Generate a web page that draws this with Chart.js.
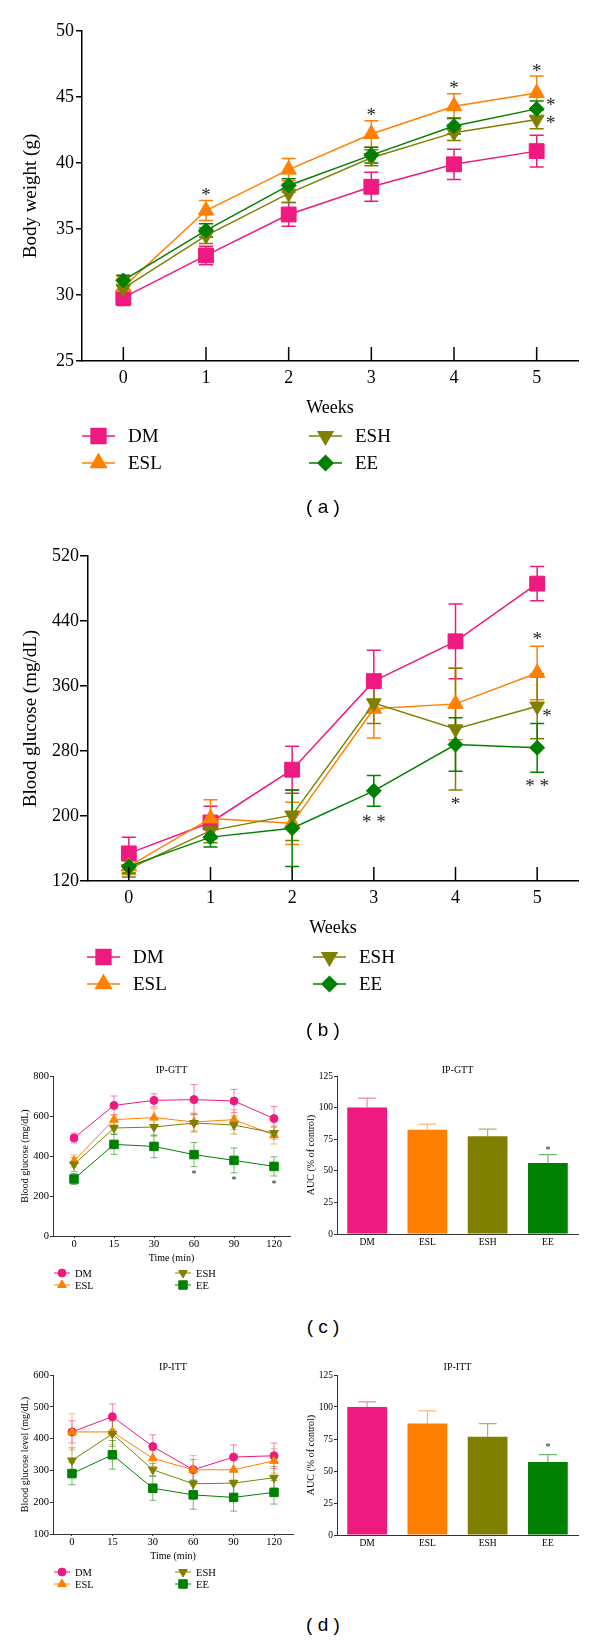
<!DOCTYPE html>
<html lang="en">
<head>
<meta charset="UTF-8">
<title>Body weight, blood glucose, IP-GTT and IP-ITT</title>
<script src="https://cdn.jsdelivr.net/npm/chart.js"></script>
<style>
    body { margin: 0; background: #fff; width: 600px; height: 1641px; position: relative; overflow: hidden; }
    .box { position: absolute; }
    .tag { position: absolute; width: 100px; text-align: center; line-height: 20px;
           font-family: "Liberation Sans", Arial, sans-serif; font-size: 19px; color: #000; }
</style>
</head>
<body>
<div class="box" style="left:0;top:0"><canvas id="chartA" width="600" height="525"></canvas></div>
<div class="tag" style="left:273px;top:497px">( a )</div>
<div class="box" style="left:0;top:525px"><canvas id="chartB" width="600" height="515"></canvas></div>
<div class="tag" style="left:273px;top:1020px">( b )</div>
<div class="box" style="left:0;top:1050px"><canvas id="chartC1" width="300" height="250"></canvas></div>
<div class="box" style="left:300px;top:1050px"><canvas id="chartC2" width="300" height="250"></canvas></div>
<div class="tag" style="left:273px;top:1317px">( c )</div>
<div class="box" style="left:0;top:1345px"><canvas id="chartD1" width="300" height="260"></canvas></div>
<div class="box" style="left:300px;top:1345px"><canvas id="chartD2" width="300" height="260"></canvas></div>
<div class="tag" style="left:273px;top:1615px">( d )</div>

<script>
    // groups and axes
    const groups = ['DM', 'ESL', 'ESH', 'EE'];
    const weeks = [0, 1, 2, 3, 4, 5];
    const timeLabels = ['0', '15', '30', '60', '90', '120'];
    const weightTicks = [25, 30, 35, 40, 45, 50];
    const glucoseTicks = [120, 200, 280, 360, 440, 520];
    const gttTicks = [0, 200, 400, 600, 800];
    const ittTicks = [100, 200, 300, 400, 500, 600];
    const aucTicks = [0, 25, 50, 75, 100, 125];

    // (a) body weight, g (mean and error)
    const weightDM = [29.8, 33.0, 36.1, 38.2, 39.9, 40.9];
    const weightDMErr = [0.6, 0.7, 0.9, 1.1, 1.15, 1.2];
    const weightESL = [30.6, 36.4, 39.5, 42.2, 44.3, 45.3];
    const weightESLErr = [0.8, 0.75, 0.85, 1.0, 0.95, 1.3];
    const weightESH = [30.5, 34.5, 37.7, 40.4, 42.3, 43.3];
    const weightESHErr = [0.7, 0.6, 0.7, 0.6, 0.6, 0.7];
    const weightEE = [31.1, 34.9, 38.3, 40.6, 42.8, 44.1];
    const weightEEErr = [0.4, 0.5, 0.5, 0.6, 0.6, 0.6];
    const weightStars = [[1, 37.8, '*'], [3, 43.8, '*'], [4, 45.9, '*'], [5, 47.2, '*'], [5.17, 44.6, '*'], [5.17, 43.2, '*']];

    // (b) blood glucose, mg/dL
    const glucoseDM = [154, 192, 257, 366, 415, 486];
    const glucoseDMErr = [20, 20, 29, 38, 46, 21];
    const glucoseESL = [138, 197, 191, 332, 338, 376];
    const glucoseESLErr = [10, 23, 26, 36, 44, 33];
    const glucoseESH = [135, 182, 201, 339, 307, 335];
    const glucoseESHErr = [10, 15, 31, 25, 75, 40];
    const glucoseEE = [138, 174, 185, 231, 288, 284];
    const glucoseEEErr = [8, 12, 47, 19, 33, 30];
    const glucoseStars = [[3, 196, '* *'], [4, 218, '*'], [5, 421, '*'], [5.12, 326, '*'], [5, 240, '* *']];

    // (c) IP-GTT
    const gttDM = [490, 653, 678, 682, 675, 587];
    const gttDMErr = [25, 47, 33, 75, 58, 60];
    const gttESL = [375, 582, 592, 570, 582, 505];
    const gttESLErr = [30, 25, 45, 45, 50, 45];
    const gttESH = [358, 540, 545, 565, 555, 515];
    const gttESHErr = [35, 30, 45, 45, 45, 30];
    const gttEE = [285, 458, 448, 407, 378, 348];
    const gttEEErr = [28, 50, 57, 60, 62, 48];
    const gttStars = [[3, 320, '*'], [4, 287, '*'], [5, 270, '*']];
    const gttAuc = [100, 82.4, 77.4, 56.2];
    const gttAucErr = [7.5, 4.6, 5.5, 6.6];
    const gttAucStars = [[3, 67.5, '*']];

    // (d) IP-ITT
    const ittDM = [421, 469, 375, 302, 342, 346];
    const ittDMErr = [35, 40, 37, 32, 38, 40];
    const ittESL = [421, 421, 338, 302, 302, 330];
    const ittESLErr = [57, 40, 25, 45, 30, 38];
    const ittESH = [331, 415, 302, 258, 260, 277];
    const ittESHErr = [40, 40, 20, 45, 40, 35];
    const ittEE = [290, 349, 244, 223, 215, 231];
    const ittEEErr = [35, 45, 38, 45, 43, 37];
    const ittAuc = [100, 87.2, 76.8, 57];
    const ittAucErr = [4, 9.7, 10.2, 5.8];
    const ittAucStars = [[3, 70, '*']];

    const colors = ['#ee1a7f', '#ff8000', '#808000', '#008000'];
    const paleColors = ['rgba(238,26,127,0.55)', 'rgba(255,128,0,0.55)', 'rgba(128,128,0,0.6)', 'rgba(0,128,0,0.55)'];
    const serif = '"Liberation Serif", "DejaVu Serif", serif';

    // error bars drawn through the y scale
    const errorBars = {
        id: 'errorBars',
        beforeDatasetsDraw(chart, args, opts) { if (!opts.onTop) drawErrors(chart, opts); },
        afterDatasetsDraw(chart, args, opts) { if (opts.onTop) drawErrors(chart, opts); }
    };
    function drawErrors(chart, opts) {
        if (!opts.cap) return;
        const ctx = chart.ctx, ys = chart.scales.y;
        chart.data.datasets.forEach((ds, i) => {
            if (!ds.errors) return;
            const meta = chart.getDatasetMeta(i);
            ctx.save();
            ctx.lineWidth = opts.width;
            meta.data.forEach((el, j) => {
                const raw = ds.data[j];
                const val = typeof raw === 'object' ? raw.y : raw;
                const c = ds.errorColor || ds.borderColor;
                ctx.strokeStyle = Array.isArray(c) ? c[j] : c;
                const top = ys.getPixelForValue(val + ds.errors[j]);
                const bot = opts.upOnly ? ys.getPixelForValue(val) : ys.getPixelForValue(val - ds.errors[j]);
                ctx.beginPath();
                ctx.moveTo(el.x, top);
                ctx.lineTo(el.x, bot);
                ctx.moveTo(el.x - opts.cap, top);
                ctx.lineTo(el.x + opts.cap, top);
                if (!opts.upOnly) {
                    ctx.moveTo(el.x - opts.cap, bot);
                    ctx.lineTo(el.x + opts.cap, bot);
                }
                ctx.stroke();
            });
            ctx.restore();
        });
    }

    const stars = {
        id: 'stars',
        afterDatasetsDraw(chart, args, opts) {
            if (!opts.items) return;
            const ctx = chart.ctx, xs = chart.scales.x, ys = chart.scales.y;
            ctx.save();
            ctx.fillStyle = '#222';
            ctx.font = opts.size + 'px ' + serif;
            ctx.textAlign = 'center';
            ctx.textBaseline = 'alphabetic';
            opts.items.forEach(([xv, yv, t]) => {
                ctx.fillText(t, xs.getPixelForValue(xv), ys.getPixelForValue(yv) + opts.size * 0.45);
            });
            ctx.restore();
        }
    };

    // tick marks pointing up into the plot
    const innerTicks = {
        id: 'innerTicks',
        afterDraw(chart, args, opts) {
            if (!opts.length) return;
            const ctx = chart.ctx, xs = chart.scales.x, b = chart.chartArea.bottom;
            ctx.save();
            ctx.strokeStyle = '#000';
            ctx.lineWidth = opts.width;
            xs.ticks.forEach(t => {
                const p = xs.getPixelForValue(t.value);
                ctx.beginPath();
                ctx.moveTo(p, b);
                ctx.lineTo(p, b - opts.length);
                ctx.stroke();
            });
            ctx.restore();
        }
    };

    // two column legend: DM / ESL on the left, ESH / EE on the right
    const pairLegend = {
        id: 'pairLegend',
        afterDraw(chart, args, opts) {
            if (!opts.cols) return;
            const ctx = chart.ctx;
            chart.data.datasets.forEach((ds, i) => {
                const x = opts.cols[Math.floor(i / 2)], y = opts.rows[i % 2];
                ctx.save();
                ctx.strokeStyle = ds.borderColor;
                ctx.lineWidth = ds.borderWidth;
                ctx.beginPath();
                ctx.moveTo(x, y);
                ctx.lineTo(x + opts.line, y);
                ctx.stroke();
                ctx.fillStyle = ds.backgroundColor;
                Chart.helpers.drawPoint(ctx, {
                    pointStyle: ds.pointStyle, radius: ds.pointRadius,
                    rotation: ds.pointRotation || 0, borderWidth: 1
                }, x + opts.line / 2, y);
                ctx.fillStyle = '#000';
                ctx.font = opts.size + 'px ' + serif;
                ctx.textAlign = 'left';
                ctx.textBaseline = 'middle';
                ctx.fillText(ds.label, x + opts.line + opts.gap, y + 1);
                ctx.restore();
            });
        }
    };

    Chart.register(errorBars, stars, innerTicks, pairLegend);

    function points(xs, ys) {
        return xs.map((x, i) => ({x: x, y: ys[i]}));
    }

    function lineSet(i, xs, values, errors, style, radius, rotation, width, errColor) {
        return {
            label: groups[i],
            data: points(xs, values),
            errors: errors,
            errorColor: errColor,
            borderColor: colors[i],
            backgroundColor: colors[i],
            borderWidth: width,
            pointStyle: style,
            pointRadius: radius,
            pointRotation: rotation,
            pointBorderWidth: 1,
            order: 4 - i,
            tension: 0
        };
    }

    function yAxis(tickList, title, f) {
        return {
            min: tickList[0],
            max: tickList[tickList.length - 1],
            afterBuildTicks: s => { s.ticks = tickList.map(v => ({value: v})); },
            afterFit: s => { s.width = f.width; },
            border: {color: f.color, width: f.lw},
            grid: {drawOnChartArea: false, tickLength: f.tl, color: f.color, lineWidth: f.lw},
            ticks: {font: {family: serif, size: f.size}, color: '#000', padding: f.pad},
            title: {display: true, text: title, color: '#000',
                    font: {family: serif, size: f.tsize}, padding: {top: f.tpad, bottom: f.tpad}}
        };
    }

    function baseOptions(padding) {
        return {
            responsive: false,
            animation: false,
            events: [],
            layout: {padding: padding},
            plugins: {legend: {display: false}, tooltip: {enabled: false}}
        };
    }

    // ---- (a) and (b): weekly line charts ----
    function weekChart(id, sets, tickList, yTitle, starItems, yWidth, bottom, legendCols, legendRows, tl, pad) {
        const opts = baseOptions({top: 31, right: 22, bottom: bottom, left: 0});
        opts.scales = {
            x: {
                type: 'linear', min: -0.5, max: 5.5,
                afterBuildTicks: s => { s.ticks = weeks.map(v => ({value: v})); },
                afterFit: s => { s.height = 60; },
                border: {color: '#000', width: 1.5},
                grid: {display: false, drawTicks: false},
                ticks: {font: {family: serif, size: 18}, color: '#000', padding: 6},
                title: {display: true, text: 'Weeks', color: '#000',
                        font: {family: serif, size: 18}, padding: {top: 0, bottom: 2}}
            },
            y: yAxis(tickList, yTitle, {width: yWidth, color: '#000', lw: 1.5, tl: tl, size: 18, pad: pad, tsize: 19, tpad: 20})
        };
        opts.plugins.errorBars = {cap: 7, width: 1.5};
        opts.plugins.stars = {items: starItems, size: 19};
        opts.plugins.innerTicks = {length: 14, width: 1.5};
        opts.plugins.pairLegend = {cols: legendCols, rows: legendRows, line: 33, gap: 13, size: 19};
        new Chart(document.getElementById(id), {
            type: 'line',
            data: {datasets: [
                lineSet(0, weeks, sets[0], sets[1], 'rect', 10.5, 0, 1.5),
                lineSet(1, weeks, sets[2], sets[3], 'triangle', 9, 0, 1.5),
                lineSet(2, weeks, sets[4], sets[5], 'triangle', 8.5, 180, 1.5),
                lineSet(3, weeks, sets[6], sets[7], 'rectRot', 7.5, 0, 1.5)
            ]},
            options: opts
        });
    }

    weekChart('chartA',
        [weightDM, weightDMErr, weightESL, weightESLErr, weightESH, weightESHErr, weightEE, weightEEErr],
        weightTicks, 'Body weight (g)', weightStars, 82, 104, [82, 309], [436, 463], 6, 2);
    weekChart('chartB',
        [glucoseDM, glucoseDMErr, glucoseESL, glucoseESLErr, glucoseESH, glucoseESHErr, glucoseEE, glucoseEEErr],
        glucoseTicks, 'Blood glucose (mg/dL)', glucoseStars, 88, 99, [87, 313], [432, 459], 8, 1);

    // ---- (c) and (d): time course and AUC ----
    const idx = timeLabels.map((t, i) => i);

    function timeChart(id, v, tickList, yTitle, title, titlePad, range, pad, legendRows, starItems) {
        const opts = baseOptions(pad);
        opts.plugins.title = {display: true, text: title, fullSize: false, color: '#000',
                              font: {family: serif, size: 10, weight: 'normal'}, padding: titlePad};
        opts.scales = {
            x: {
                type: 'linear', min: range[0], max: range[1],
                afterBuildTicks: s => { s.ticks = idx.map(v => ({value: v})); },
                afterFit: s => { s.height = 30; },
                border: {color: '#333', width: 1},
                grid: {drawOnChartArea: false, tickLength: 2, color: '#333'},
                ticks: {font: {family: serif, size: 10.5}, color: '#000', padding: 0,
                        callback: v => timeLabels[v]},
                title: {display: true, text: 'Time (min)', color: '#000',
                        font: {family: serif, size: 10}, padding: {top: 0, bottom: 2}}
            },
            y: yAxis(tickList, yTitle, {width: 53, color: '#333', lw: 1, tl: 3, size: 10.5, pad: 1, tsize: 10, tpad: 19})
        };
        opts.plugins.errorBars = {cap: 3.5, width: 1};
        opts.plugins.stars = {items: starItems, size: 10};
        opts.plugins.pairLegend = {cols: [54, 175], rows: legendRows, line: 16, gap: 5, size: 10.5};
        new Chart(document.getElementById(id), {
            type: 'line',
            data: {datasets: [
                lineSet(0, idx, v[0], v[1], 'circle', 4, 0, 1, paleColors[0]),
                lineSet(1, idx, v[2], v[3], 'triangle', 5, 0, 1, paleColors[1]),
                lineSet(2, idx, v[4], v[5], 'triangle', 5, 180, 1, paleColors[2]),
                lineSet(3, idx, v[6], v[7], 'rect', 6, 0, 1, paleColors[3])
            ]},
            options: opts
        });
    }

    function aucChart(id, values, errors, title, titlePad, pad, starItems) {
        const opts = baseOptions(pad);
        opts.plugins.title = {display: true, text: title, fullSize: false, color: '#000',
                              font: {family: serif, size: 10, weight: 'normal'}, padding: titlePad};
        opts.scales = {
            x: {
                afterFit: s => { s.height = 20; },
                border: {color: '#333', width: 1},
                grid: {display: false, drawTicks: false},
                ticks: {font: {family: serif, size: 9.5}, color: '#000', padding: 3}
            },
            y: yAxis(aucTicks, 'AUC (% of control)', {width: 37, color: '#333', lw: 1, tl: 3, size: 9.5, pad: 1, tsize: 10, tpad: 5})
        };
        opts.plugins.errorBars = {cap: 9, width: 1.2, upOnly: true, onTop: true};
        opts.plugins.stars = {items: starItems, size: 10};
        new Chart(document.getElementById(id), {
            type: 'bar',
            data: {
                labels: groups,
                datasets: [{
                    data: values,
                    errors: errors,
                    errorColor: paleColors,
                    backgroundColor: colors,
                    borderColor: colors,
                    borderWidth: 0,
                    barPercentage: 0.66,
                    categoryPercentage: 1
                }]
            },
            options: opts
        });
    }

    timeChart('chartC1', [gttDM, gttDMErr, gttESL, gttESLErr, gttESH, gttESHErr, gttEE, gttEEErr],
        gttTicks, 'Blood glucose (mg/dL)', 'IP-GTT', {top: 14, bottom: 0}, [-0.525, 5.4],
        {top: 0, right: 10, bottom: 34, left: 0}, [223, 235], gttStars);
    aucChart('chartC2', gttAuc, gttAucErr, 'IP-GTT', {top: 14, bottom: 0},
        {top: 0, right: 22, bottom: 46, left: 0}, gttAucStars);

    timeChart('chartD1', [ittDM, ittDMErr, ittESL, ittESLErr, ittESH, ittESHErr, ittEE, ittEEErr],
        ittTicks, 'Blood glucose level (mg/dL)', 'IP-ITT', {top: 16, bottom: 2}, [-0.47, 5.47],
        {top: 0, right: 5, bottom: 41, left: 0}, [227, 239], []);
    aucChart('chartD2', ittAuc, ittAucErr, 'IP-ITT', {top: 16, bottom: 2},
        {top: 0, right: 22, bottom: 50, left: 0}, ittAucStars);
</script>
</body>
</html>
